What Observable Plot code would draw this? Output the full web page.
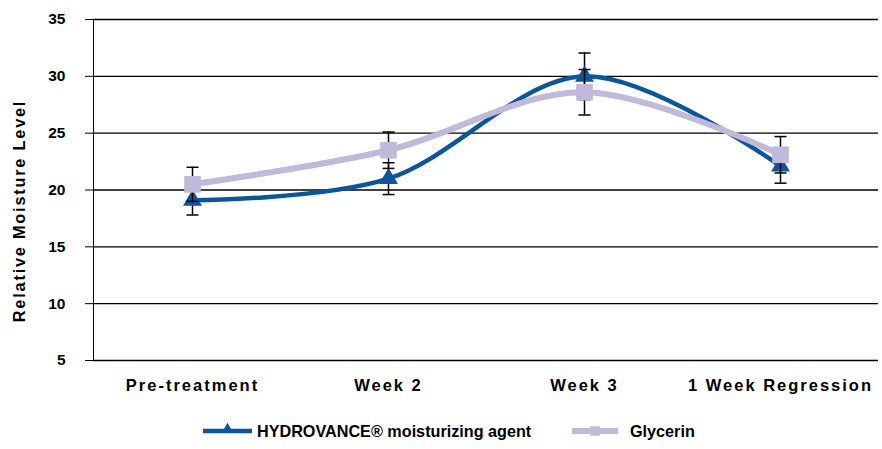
<!DOCTYPE html>
<html><head><meta charset="utf-8">
<script src="https://cdn.jsdelivr.net/npm/d3@7"></script>
<script src="https://cdn.jsdelivr.net/npm/@observablehq/plot@0.6"></script>
<style>
body{margin:0;background:#fff;font-family:"Liberation Sans",Arial,sans-serif;}
#wrap{position:relative;width:882px;height:449px;overflow:hidden;}
#legend{position:absolute;left:0;top:420px;width:882px;height:24px;}
</style></head><body><div id="wrap"><div id="chart"></div><div id="legend"></div></div>
<script>
const categories = ["Pre-treatment", "Week 2", "Week 3", "1 Week Regression"];
const seriesNames = ["HYDROVANCE® moisturizing agent", "Glycerin"];
const hydrovance = [19.1, 21.0, 30.0, 22.1];
const hydrovanceErr = [1.3, 1.4, 2.05, 1.5];
const glycerin = [20.5, 23.5, 28.6, 23.1];
const glycerinErr = [1.5, 1.6, 2.0, 1.6];
const yTicks = [5, 10, 15, 20, 25, 30, 35];
const yLabel = "Relative Moisture Level";

const blue = "#0b559b";
const lav = "#c1b9da";

const hRows = categories.map((c, i) => ({cat: c, value: hydrovance[i], err: hydrovanceErr[i]}));
const gRows = categories.map((c, i) => ({cat: c, value: glycerin[i], err: glycerinErr[i]}));
const caps = rows => rows.flatMap(d => [{cat: d.cat, v: d.value - d.err}, {cat: d.cat, v: d.value + d.err}]);

const capSymbol = {draw(ctx, size) { ctx.moveTo(-6, 0); ctx.lineTo(6, 0); }};

function seriesMarks(rows, color, lw, symbol, r) {
  return [
    Plot.line(rows, {x: "cat", y: "value", stroke: color, strokeWidth: lw, curve: "cardinal"}),
    Plot.ruleX(rows, {x: "cat", y1: d => d.value - d.err, y2: d => d.value + d.err, stroke: "#000", strokeWidth: 1.5}),
    Plot.dot(caps(rows), {x: "cat", y: "v", symbol: capSymbol, r: 3, stroke: "#000", strokeWidth: 1.5, fill: "none"}),
    Plot.dot(rows, {x: "cat", y: "value", symbol: symbol, r: r, fill: color, stroke: "none"})
  ];
}

const chart = Plot.plot({
  width: 882, height: 400,
  marginLeft: 93, marginRight: 4, marginTop: 19, marginBottom: 40,
  style: {fontFamily: '"Liberation Sans", Arial, sans-serif', fontSize: "15px", fontWeight: "bold", color: "#000", background: "#fff", overflow: "visible"},
  x: {type: "point", domain: categories, padding: 0.5, label: null, tickSize: 0, tickPadding: 19},
  y: {domain: [5, 35], ticks: yTicks, label: null, tickSize: 8, tickPadding: 20, line: true},
  marks: [
    Plot.ruleY(yTicks, {stroke: "#000", strokeWidth: 1.4}),
    ...seriesMarks(hRows, blue, 4.5, "triangle", 7),
    ...seriesMarks(gRows, lav, 6, "square", 9.4),
    Plot.text([yLabel], {frameAnchor: "left", textAnchor: "middle", dx: -74, dy: 21, rotate: -90, fontSize: 16, fontWeight: "bold", fill: "#000"})
  ]
});
document.getElementById("chart").appendChild(chart);

// text styling
const yTickStr = yTicks.map(String);
d3.select(chart).selectAll("text").each(function() {
  const t = this.textContent;
  if (categories.includes(t)) {
    this.style.fontSize = "16.5px"; this.style.letterSpacing = "2px"; this.style.fontWeight = "bold";
  } else if (yTickStr.includes(t)) {
    this.style.fontSize = "15.5px"; this.style.fontWeight = "bold";
  } else if (t === yLabel) {
    this.style.fontSize = "16.3px"; this.style.letterSpacing = "1.8px"; this.style.fontWeight = "bold";
  }
});

// legend
const legend = d3.select("#legend");
const items = [
  {name: seriesNames[0], color: blue, lw: 4.5, sym: "triangle", x0: 203, x1: 252, tx: 257},
  {name: seriesNames[1], color: lav, lw: 6, sym: "square", x0: 572, x1: 618, tx: 630}
];
const lsvg = legend.append("svg").attr("width", 882).attr("height", 24).style("position", "absolute").style("left", 0).style("top", 0);
items.forEach(it => {
  lsvg.append("line").attr("x1", it.x0).attr("x2", it.x1).attr("y1", 11).attr("y2", 11).attr("stroke", it.color).attr("stroke-width", it.lw);
  const sz = it.sym === "triangle" ? 60 : 90;
  lsvg.append("path").attr("transform", `translate(${(it.x0 + it.x1) / 2},${it.sym === "triangle" ? 9.5 : 11})`)
    .attr("d", d3.symbol(it.sym === "triangle" ? d3.symbolTriangle : d3.symbolSquare, sz)()).attr("fill", it.color);
  lsvg.append("text").attr("x", it.tx).attr("y", 11).attr("dy", "0.35em")
    .attr("font-size", 16.2).attr("font-weight", "bold").attr("fill", "#000")
    .attr("font-family", '"Liberation Sans", Arial, sans-serif').text(it.name);
});
</script></body></html>
